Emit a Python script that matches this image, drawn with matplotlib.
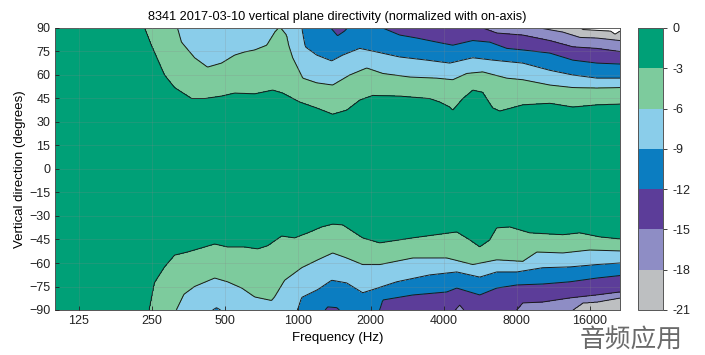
import numpy as np
import matplotlib
matplotlib.use("Agg")
import matplotlib.pyplot as plt

plt.rcParams['font.family'] = ['Liberation Sans', 'DejaVu Sans']

# ---------------- data ----------------
levels = [-21, -18, -15, -12, -9, -6, -3, 0]
level_labels = ['-21', '-18', '-15', '-12', '-9', '-6', '-3', '0']
band_colors = ['#BDBFC1', '#8E8DC5', '#5C3D99', '#0B7DC1', '#8ACDEA', '#7DCB9D', '#00A077']

xtick_freqs = [125, 250, 500, 1000, 2000, 4000, 8000, 16000]
xtick_labels = ['125', '250', '500', '1000', '2000', '4000', '8000', '16000']
ytick_angles = [-90, -75, -60, -45, -30, -15, 0, 15, 30, 45, 60, 75, 90]

# contour positions (frequency Hz, angle deg); angles beyond +/-90 mean "off the chart"
top3_f = [100, 228, 241, 250, 283, 311, 366, 414, 486, 550, 665, 789, 867, 1019, 1198, 1394, 1592,
          1801, 2038, 2633, 3501, 3850, 4235, 4356, 4789, 5267, 5792, 6370, 6806, 8469, 10944,
          13616, 17100, 21300]
top3_a = [115, 95, 85.5, 79, 60, 52, 45, 45, 46.6, 48.5, 48, 50.4, 48.5, 42.8, 39, 35, 37.6,
          44, 47, 46.6, 45, 42.8, 39.6, 37.6, 45, 50.4, 49, 39, 37, 41, 42,
          39.6, 41, 41.5]

top6_f = [100, 300, 320, 332, 376, 425, 486, 550, 605, 665, 745, 804, 843, 901, 919, 954, 1049,
          1198, 1394, 1638, 1925, 2241, 2896, 3742, 4356, 4978, 5792, 7276, 8469, 10944, 13616,
          17100, 21300]
top6_a = [125, 96, 90, 81, 71, 65, 67.6, 72.7, 74.7, 76, 79, 87.4, 91, 85.5, 79, 71, 58,
          55, 53.6, 60, 64.5, 61, 58.7, 58, 57, 61, 62, 58, 57, 53.6, 52,
          51.7, 52]

top9_f = [100, 1000, 1040, 1055, 1075, 1198, 1381, 1533, 1801, 2117, 2633, 3403, 4235, 5267,
          6370, 8469, 10944, 13616, 17100, 21300]
top9_a = [130, 97, 91, 85, 78, 72.7, 69, 72.7, 77, 74.7, 71.5, 69.5, 67.6, 71,
          69.5, 67.6, 63, 60, 58, 58]

top12_f = [100, 1300, 1370, 1460, 1560, 1650, 1900, 2241, 2633, 3095, 3742, 4356, 5267, 6190,
           7276, 8469, 10944, 13616, 17100, 21300]
top12_a = [140, 95, 90, 85, 88, 92, 93, 90, 85.5, 83.6, 81, 79, 82, 81,
           77, 76, 74, 69.5, 67.6, 67]

top15_f = [100, 5000, 5792, 6615, 8469, 10944, 13616, 17100, 21300]
top15_a = [150, 95, 90, 86.8, 85.5, 82, 78, 77, 75]

top18_f = [100, 9000, 9950, 12381, 14551, 17100, 21300]
top18_a = [160, 93, 90, 87.4, 84, 83.6, 82]

top21_f = [100, 14000, 15000, 17100, 19500, 20300, 21300]
top21_a = [170, 92, 89, 88.5, 88, 86, 88]

bot3_f = [100, 235, 245, 257, 283, 311, 352, 414, 455, 514, 605, 684, 752, 859, 972, 1100, 1256,
          1394, 1533, 1853, 2178, 2980, 4525, 5120, 5629, 6190, 6615, 7486, 9051, 12381, 14551,
          17590, 21300]
bot3_a = [-115, -96, -90, -72.7, -62.5, -55, -53, -49.8, -47.9, -49.8, -49.8, -51, -49, -42.8,
          -44, -40.8, -37, -35.2, -35.7, -44, -47.2, -44, -40.2, -45.3, -49.8, -45.3, -37.6,
          -37, -40.8, -42, -40.8, -43.4, -44.7]

bot6_f = [100, 300, 317, 340, 376, 455, 514, 588, 665, 781, 804, 884, 1039, 1209, 1394, 1592,
          1853, 2178, 2980, 4114, 5267, 6615, 8469, 9675, 12381, 16000, 21300]
bot6_a = [-125, -96, -90, -80, -75, -69.6, -72, -76, -81.7, -84, -81.7, -71, -63, -58, -53.6,
          -56.8, -61, -61, -56.8, -56.8, -61, -58, -59, -53, -53.6, -51.7, -52.3]

bot9_f = [100, 430, 463, 500, 950, 1000, 1039, 1209, 1381, 1592, 1853, 2038, 2560, 3501, 4525,
          5629, 6615, 8000, 10240, 13235, 17100, 21300]
bot9_a = [-110, -91.5, -88.5, -91.5, -94, -90, -82, -77, -71, -72.7, -79, -77, -72, -67.6,
          -65.7, -69, -65.7, -65.7, -63, -62.5, -61, -60]

bot12_f = [100, 1250, 1330, 1450, 1560, 2000, 2178, 2241, 2980, 4114, 4525, 5629, 6615, 8000,
           10240, 13235, 17100, 21300]
bot12_a = [-140, -93, -88, -88.5, -93, -93, -90, -83.6, -80.4, -78.5, -76, -80.4, -76, -74,
           -73.4, -72, -69.6, -68]

bot15_f = [100, 4400, 4656, 4900, 7500, 8000, 8469, 10240, 13235, 17100, 21300]
bot15_a = [-150, -91, -86.8, -91, -92, -90, -85.5, -84.9, -82.3, -80.4, -78.5]

bot18_f = [100, 13000, 13616, 14970, 17100, 21300]
bot18_a = [-160, -92, -90, -85.5, -84.9, -82.3]

bot21_f = [100, 21300]
bot21_a = [-175, -175]

# ---------------- build the field from the contour positions ----------------
f_min, f_max = 100, 21300
freq = np.logspace(np.log10(f_min), np.log10(f_max), 600)
ang = np.linspace(-90, 90, 721)
lf = np.log(freq)

top_curves = [(top3_f, top3_a), (top6_f, top6_a), (top9_f, top9_a), (top12_f, top12_a),
              (top15_f, top15_a), (top18_f, top18_a), (top21_f, top21_a)]
bot_curves = [(bot3_f, bot3_a), (bot6_f, bot6_a), (bot9_f, bot9_a), (bot12_f, bot12_a),
              (bot15_f, bot15_a), (bot18_f, bot18_a), (bot21_f, bot21_a)]
node_vals = [0, -3, -6, -9, -12, -15, -18, -21, -30]


def curve_rows(curves, sign):
    rows = [np.abs(np.interp(lf, np.log(f), np.array(a) * sign)) for f, a in curves]
    rows = np.array(rows)
    for k in range(1, len(rows)):
        rows[k] = np.maximum(rows[k], rows[k - 1] + 0.2)
    return rows


A = curve_rows(top_curves, 1)
B = curve_rows(bot_curves, -1)
Z = np.zeros((len(ang), len(freq)))
pos = ang >= 0
for j in range(len(freq)):
    xt = np.concatenate([[0], A[:, j], [A[-1, j] + 20]])
    xb = np.concatenate([[0], B[:, j], [B[-1, j] + 20]])
    Z[pos, j] = np.interp(ang[pos], xt, node_vals)
    Z[~pos, j] = np.interp(-ang[~pos], xb, node_vals)

F, ANG = np.meshgrid(freq, ang)

# ---------------- plot ----------------
fig = plt.figure(figsize=(7.05, 3.55), dpi=100)
ax = fig.add_axes([55 / 705, 1 - 310 / 355, 565 / 705, 282 / 355])
cs = ax.contourf(F, ANG, Z, levels=levels, colors=band_colors)
ax.contour(F, ANG, Z, levels=levels[:-1], colors='#1a1a1a', linewidths=0.7,
           linestyles='solid')
ax.set_xscale('log')
ax.set_xlim(f_min, f_max)
ax.set_ylim(-90, 90)
ax.set_xticks(xtick_freqs)
ax.set_xticklabels(xtick_labels)
ax.xaxis.set_minor_locator(matplotlib.ticker.NullLocator())
ax.set_yticks(ytick_angles)
ax.tick_params(direction='in', length=3, labelsize=9, colors='#222222', width=0.6)
ax.grid(True, color='#888888', alpha=0.3, linewidth=0.5)
ax.set_axisbelow(False)
for s in ax.spines.values():
    s.set_color('#555555')
    s.set_linewidth(0.7)
ax.set_xlabel('Frequency (Hz)', fontsize=9.5, labelpad=4)
ax.set_ylabel('Vertical direction (degrees)', fontsize=9.5, labelpad=2)
ax.set_title('8341 2017-03-10 vertical plane directivity (normalized with on-axis)',
             fontsize=9.2, pad=6)

cax = fig.add_axes([638 / 705, 1 - 310 / 355, 25 / 705, 282 / 355])
cb = fig.colorbar(cs, cax=cax)
cb.set_ticks(levels)
cb.set_ticklabels(level_labels)
cb.ax.tick_params(labelsize=9, length=3, width=0.6, direction='out', colors='#222222')
cb.outline.set_edgecolor('#555555')
cb.outline.set_linewidth(0.7)
cb.ax.minorticks_off()

fig.text(580 / 705, 1 / 355, '音频应用', family=['Noto Sans CJK SC', 'DejaVu Sans'],
         fontsize=18.5, color='#6a6a6a', fontweight='light', va='bottom')

fig.savefig('out.png', dpi=100)
